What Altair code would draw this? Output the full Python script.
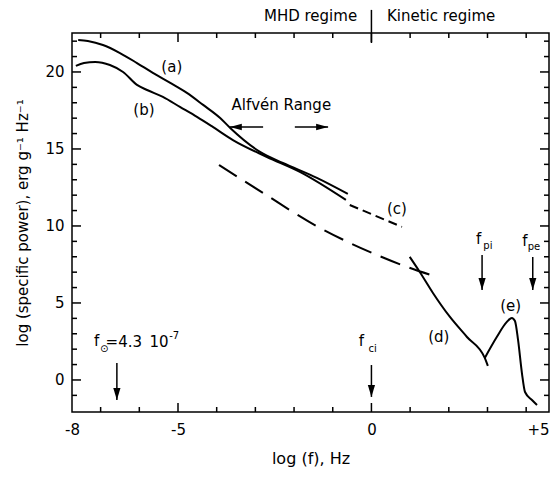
import altair as alt
import pandas as pd

FONT = "DejaVu Sans"

# ---------------- data ----------------
# curve (a)
a_x = [-7.58, -7.33, -6.94, -6.50, -6.06, -5.65, -5.20, -4.77, -4.35, -3.91, -3.65, -2.88, -2.29, -1.41, -0.61]
a_y = [22.08, 22.01, 21.75, 21.23, 20.58, 19.94, 19.29, 18.64, 17.86, 17.01, 16.36, 14.81, 14.09, 13.12, 12.08]
# curve (b)
b_x = [-7.64, -7.43, -7.14, -6.76, -6.42, -6.06, -5.80, -5.39, -4.95, -4.51, -4.10, -3.58, -2.70, -1.85, -0.66]
b_y = [20.39, 20.58, 20.65, 20.45, 20.00, 19.16, 18.83, 18.38, 17.73, 17.08, 16.43, 15.58, 14.48, 13.51, 11.69]
# (c) short-dashed extension
c_x = [-0.56, 0.79]
c_y = [11.36, 9.94]
# long-dashed line
l_x = [-3.94, -2.80, -1.38, -0.61, 0.14, 0.92, 1.69]
l_y = [13.96, 12.14, 9.94, 8.96, 8.12, 7.34, 6.69]
# (d)
d_x = [0.99, 1.25, 1.59, 2.03, 2.47, 2.93, 3.01]
d_y = [7.99, 7.01, 5.65, 4.09, 2.79, 1.43, 0.91]
# (e)
e_x = [2.93, 3.24, 3.50, 3.63, 3.71, 3.79, 3.89, 3.97, 4.15, 4.28]
e_y = [1.43, 2.79, 3.77, 4.03, 3.83, 2.60, 0.45, -0.78, -1.30, -1.62]

# vertical arrows (f_sun, f_ci, f_pi, f_pe)
varrow_x = [-6.58, 0.0, 2.86, 4.17]
varrow_top = [1.10, 0.97, 8.12, 7.99]
varrow_tip = [-1.30, -1.10, 5.84, 5.84]
# horizontal "Alfven range" arrows
harrow_y = [16.43, 16.43]
harrow_start = [-2.80, -1.98]
harrow_tip = [-3.66, -1.12]

# annotations
ann_text = ["(a)", "(b)", "(c)", "(d)", "(e)", "Alfvén Range",
            "f", "pi", "f", "pe", "f", "ci", "f", "⊙", "=4.3", "10", "-7"]
ann_x = [-5.16, -5.88, 0.66, 1.74, 3.60, -2.33,
         2.77, 3.01, 3.97, 4.20, -0.26, 0.03, -7.10, -6.91, -6.40, -5.49, -5.10]
ann_y = [20.29, 17.53, 11.10, 2.79, 4.81, 17.86,
         9.16, 8.70, 9.03, 8.64, 2.53, 2.01, 2.53, 2.01, 2.47, 2.47, 2.86]
ann_size = [15, 15, 15, 15, 15, 15, 15, 10, 15, 10, 15, 10, 15, 10, 15, 15, 10]

regime_text = ["MHD regime", "Kinetic regime"]
regime_x = [-0.37, 0.40]
regime_y = [23.62, 23.62]
divider_x = [0.0]
divider_y = [24.03]
divider_y2 = [21.88]

# axes
X_DOMAIN = [-7.74, 4.59]
Y_DOMAIN = [-2.08, 22.53]
x_major_values = [-7.74, -5, 0, 4.59]
x_major_labels = ["-8", "-5", "0", "+5"]
x_minor_values = [-7, -6, -4, -3, -2, -1, 1, 2, 3, 4]
y_major_values = [0, 5, 10, 15, 20]
y_minor_values = [-1, 1, 2, 3, 4, 6, 7, 8, 9, 11, 12, 13, 14, 16, 17, 18, 19, 21, 22]

W, H = 477, 379
MAJ, MIN = 9, 5

# ---------------- build tables ----------------
rows = []
for name, xs_, ys_, style in [("a", a_x, a_y, "solid"), ("b", b_x, b_y, "solid"),
                              ("d", d_x, d_y, "solid"), ("e", e_x, e_y, "solid"),
                              ("c", c_x, c_y, "short"), ("l", l_x, l_y, "long")]:
    for i, (xv, yv) in enumerate(zip(xs_, ys_)):
        rows.append({"series": name, "x": xv, "y": yv, "order": i, "style": style})
curves = pd.DataFrame(rows)

xs = alt.Scale(domain=X_DOMAIN, nice=False, zero=False)
ys = alt.Scale(domain=Y_DOMAIN, nice=False, zero=False)

# label expression from the tick label arrays
expr = "'" + x_major_labels[-1] + "'"
for v, lab, nxt in reversed(list(zip(x_major_values[:-1], x_major_labels[:-1], x_major_values[1:]))):
    expr = f"datum.value < {(v + nxt) / 2} ? '{lab}' : ({expr})"

common = dict(domain=False, grid=False, tickOpacity=0,
              labelFont=FONT, labelFontSize=15, labelColor="black",
              titleFont=FONT, titleFontWeight="normal", titleColor="black")

# one axis definition, shared by every layer so they merge cleanly
X_AXIS = alt.Axis(orient="bottom", values=x_major_values, labelExpr=expr, tickSize=9, labelPadding=1,
                  labelFlush=False, labelOverlap=False,
                  labelAlign=alt.condition(f"datum.value > {x_major_values[-2]}", alt.value("right"),
                                           alt.value("center")),
                  title="log (f), Hz", titleFontSize=16, titlePadding=13, **common)
Y_AXIS = alt.Axis(orient="left", values=y_major_values, tickSize=8, labelPadding=0,
                  title="log (specific power), erg g⁻¹ Hz⁻¹", titleFontSize=15, titlePadding=14, **common)

X = lambda f="x": alt.X(f"{f}:Q", scale=xs, axis=X_AXIS)
Y = lambda f="y": alt.Y(f"{f}:Q", scale=ys, axis=Y_AXIS)


# inward tick marks on all four sides, drawn from the tick value arrays
def xticks(values, length):
    df = pd.DataFrame({"v": values})
    bottom = alt.Chart(df).mark_rule(color="black", strokeWidth=1.5).encode(
        x=X("v"), y=alt.value(H), y2=alt.value(H - length))
    top = alt.Chart(df).mark_rule(color="black", strokeWidth=1.5).encode(
        x=X("v"), y=alt.value(0), y2=alt.value(length))
    return [bottom, top]


def yticks(values, length):
    df = pd.DataFrame({"v": values})
    left = alt.Chart(df).mark_rule(color="black", strokeWidth=1.5).encode(
        y=Y("v"), x=alt.value(0), x2=alt.value(length))
    right = alt.Chart(df).mark_rule(color="black", strokeWidth=1.5).encode(
        y=Y("v"), x=alt.value(W), x2=alt.value(W - length))
    return [left, right]


tick_layers = (xticks(x_major_values[1:-1], MAJ) + xticks(x_minor_values, MIN)
               + yticks(y_major_values, MAJ) + yticks(y_minor_values, MIN))

base = alt.Chart(curves)
solid = base.transform_filter("datum.style == 'solid'").mark_line(
    color="black", strokeWidth=2, interpolate="monotone").encode(
    x=X(), y=Y(), detail="series:N", order="order:Q")
short = base.transform_filter("datum.style == 'short'").mark_line(
    color="black", strokeWidth=2, strokeDash=[9, 5]).encode(
    x=X(), y=Y(), detail="series:N", order="order:Q")
long_ = base.transform_filter("datum.style == 'long'").mark_line(
    color="black", strokeWidth=2, strokeDash=[21, 10], interpolate="monotone").encode(
    x=X(), y=Y(), detail="series:N", order="order:Q")

DOWN = "M -0.9 -3 L 0.9 -3 L 0 0 Z"
LEFT = "M 3 -0.8 L 3 0.8 L 0 0 Z"
RIGHT = "M -3 -0.8 L -3 0.8 L 0 0 Z"

vdf = pd.DataFrame({"x": varrow_x, "top": varrow_top, "tip": varrow_tip})
vrules = alt.Chart(vdf).mark_rule(color="black", strokeWidth=1.5).encode(
    x=X(), y=Y("top"), y2="tip:Q")
vheads = alt.Chart(vdf.assign(shape=DOWN)).mark_point(
    filled=True, color="black", opacity=1, size=64).encode(
    x=X(), y=Y("tip"), shape=alt.Shape("shape:N", scale=None, legend=None))

hdf = pd.DataFrame({"y": harrow_y, "start": harrow_start, "tip": harrow_tip,
                    "shape": [LEFT, RIGHT]})
hrules = alt.Chart(hdf).mark_rule(color="black", strokeWidth=1.5).encode(
    x=X("start"), x2="tip:Q", y=Y())
hheads = alt.Chart(hdf).mark_point(filled=True, color="black", opacity=1, size=64).encode(
    x=X("tip"), y=Y(), shape=alt.Shape("shape:N", scale=None, legend=None))

adf = pd.DataFrame({"text": ann_text, "x": ann_x, "y": ann_y, "size": ann_size})
texts = alt.Chart(adf).mark_text(font=FONT, color="black", baseline="middle").encode(
    x=X(), y=Y(), text="text:N", size=alt.Size("size:Q", scale=None, legend=None))

rdf = pd.DataFrame({"text": regime_text, "x": regime_x, "y": regime_y})
mhd = alt.Chart(rdf.iloc[[0]]).mark_text(font=FONT, fontSize=15, color="black", align="right",
                                          baseline="middle").encode(x=X(), y=Y(), text="text:N")
kin = alt.Chart(rdf.iloc[[1]]).mark_text(font=FONT, fontSize=15, color="black", align="left",
                                          baseline="middle").encode(x=X(), y=Y(), text="text:N")
ddf = pd.DataFrame({"x": divider_x, "y": divider_y, "y2": divider_y2})
divider = alt.Chart(ddf).mark_rule(color="black", strokeWidth=1.5).encode(
    x=X(), y=Y(), y2="y2:Q")

chart = alt.layer(
    *tick_layers, solid, short, long_, vrules, vheads, hrules, hheads, texts, mhd, kin, divider
).properties(
    width=W, height=H,
    autosize=alt.AutoSizeParams(type="none"),
    padding={"left": 64, "top": 25, "right": 1, "bottom": 57},
).configure_view(stroke="black", strokeWidth=1.5)

chart.save("out.html", embed_options={"renderer": "svg", "actions": False})
